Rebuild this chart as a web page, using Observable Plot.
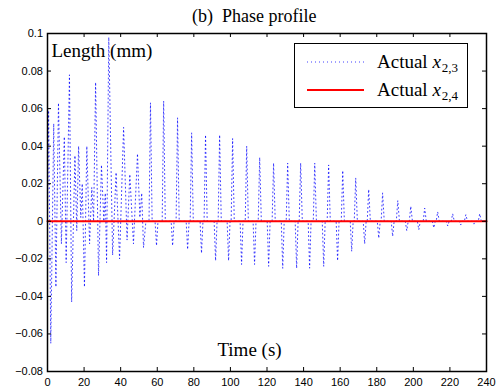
<!DOCTYPE html>
<html><head><meta charset="utf-8">
<script src="https://cdn.jsdelivr.net/npm/d3@7"></script>
<script src="https://cdn.jsdelivr.net/npm/@observablehq/plot@0.6"></script>
<style>body{margin:0;background:#fff;} svg{display:block}</style>
</head><body><div id="chart"></div>
<script>
const xTicks = [0, 20, 40, 60, 80, 100, 120, 140, 160, 180, 200, 220, 240];
const yTicks = [-0.08, -0.06, -0.04, -0.02, 0, 0.02, 0.04, 0.06, 0.08, 0.1];
const titleText = "(b)  Phase profile";
const yLabelText = "Length (mm)";
const xLabelText = "Time (s)";
const seriesNames = ["Actual", "Actual"];
const seriesSubs = ["2,3", "2,4"];

// Actual x_{2,3}: time (s) and value (mm)
const time23 = [
  0.0, 0.6, 1.8, 3.4, 4.6, 6.0, 7.6, 9.2, 10.2, 12.0, 13.2, 15.0, 16.0, 17.0, 18.2, 19.0, 20.2, 21.5, 23.0, 24.2,
  25.2, 26.3, 27.9, 29.5, 30.8, 31.6, 32.3, 33.5, 35.6, 37.5, 39.4, 41.6, 43.5, 45.0, 47.0, 49.2, 50.5, 51.5, 52.5, 53.8,
  55.5, 56.3, 57.2, 58.8, 59.6, 60.4, 62.7, 63.5, 64.4, 67.6, 68.4, 69.2, 70.3, 71.1, 72.0, 75.8, 76.6, 77.4, 78.0, 78.8,
  79.7, 83.4, 84.2, 85.0, 85.6, 86.4, 87.3, 91.1, 91.9, 92.7, 93.3, 94.1, 95.0, 98.2, 99.0, 99.8, 100.4, 101.2, 102.1, 105.3,
  106.1, 106.9, 108.1, 108.9, 109.8, 112.4, 113.2, 114.0, 115.2, 116.0, 116.9, 120.1, 120.9, 121.7, 122.8, 123.6, 124.5, 127.8, 128.6, 129.4,
  130.5, 131.3, 132.2, 135.4, 136.2, 137.0, 137.6, 138.4, 139.3, 142.5, 143.3, 144.1, 145.3, 146.1, 147.0, 150.2, 151.0, 151.8, 152.9, 153.7,
  154.6, 157.8, 158.6, 159.4, 160.6, 161.4, 162.3, 165.5, 166.3, 167.1, 167.7, 168.5, 169.4, 172.6, 173.4, 174.2, 174.8, 175.6, 176.5, 180.3,
  181.1, 181.9, 182.4, 183.2, 184.1, 187.9, 188.7, 189.5, 190.7, 191.5, 192.4, 195.6, 196.4, 197.2, 197.8, 198.6, 199.5, 202.2, 203.0, 203.8,
  205.4, 206.2, 207.1, 210.4, 211.2, 212.0, 212.5, 213.3, 214.2, 218.0, 218.8, 219.6, 220.7, 221.5, 222.4, 225.1, 225.9, 226.7, 227.9, 228.7,
  229.6, 232.3, 233.1, 233.9, 235.5, 236.3, 237.2, 240.0
];
const value23 = [
  0, 0.059, -0.065, 0.052, -0.035, 0.063, -0.012, 0.045, -0.022, 0.078, -0.043, 0.035, -0.005, 0.040, 0.002, 0.020, -0.035, 0.040, -0.012, 0.018,
  0, 0.074, -0.029, 0.030, 0, 0.015, -0.022, 0.098, -0.018, 0.026, -0.020, 0.050, -0.010, 0.025, -0.012, 0.036, 0.002, 0.015, -0.014, 0,
  0, 0.063, 0, 0, -0.013, 0, 0, 0.064, 0, 0, -0.013, 0, 0, 0.055, 0, 0, -0.015, 0, 0, 0.047,
  0, 0, -0.017, 0, 0, 0.046, 0, 0, -0.021, 0, 0, 0.046, 0, 0, -0.021, 0, 0, 0.044, 0, 0,
  -0.023, 0, 0, 0.040, 0, 0, -0.023, 0, 0, 0.034, 0, 0, -0.024, 0, 0, 0.031, 0, 0, -0.025, 0,
  0, 0.031, 0, 0, -0.025, 0, 0, 0.031, 0, 0, -0.025, 0, 0, 0.031, 0, 0, -0.024, 0, 0, 0.030,
  0, 0, -0.021, 0, 0, 0.027, 0, 0, -0.016, 0, 0, 0.023, 0, 0, -0.012, 0, 0, 0.017, 0, 0,
  -0.009, 0, 0, 0.015, 0, 0, -0.008, 0, 0, 0.011, 0, 0, -0.005, 0, 0, 0.008, 0, 0, -0.0045, 0,
  0, 0.007, 0, 0, -0.0035, 0, 0, 0.005, 0, 0, -0.0025, 0, 0, 0.004, 0, 0, -0.002, 0, 0, 0.0035,
  0, 0, -0.0015, 0, 0, 0.004, 0, 0
];
// Actual x_{2,4}
const time24 = [0, 240];
const value24 = [0, 0];

const d23 = time23.map((t, i) => ({t, v: value23[i]}));
const d24 = time24.map((t, i) => ({t, v: value24[i]}));

const serif = "'Liberation Serif','Times New Roman',serif";
const sans = "'Liberation Sans',Arial,Helvetica,sans-serif";
const fmtY = d => Math.abs(d) < 1e-9 ? "0" : String(+d.toFixed(2)).replace("-", "\u2212");
const dots = "1,3";

const W = 497, H = 387, mT = 33, mB = 16, mL = 47, mR = 11;
const plotW = W - mL - mR, plotH = H - mT - mB, tk = 4;

const svg = Plot.plot({
  width: W, height: H,
  marginTop: mT, marginBottom: mB, marginLeft: mL, marginRight: mR,
  x: {domain: [0, 240], label: null},
  y: {domain: [-0.08, 0.1], label: null},
  style: {fontFamily: sans, fontSize: "11px", color: "black", background: "white"},
  marks: [
    Plot.line(d23, {x: "t", y: "v", stroke: "#0000ff", strokeWidth: 1, strokeDasharray: dots, strokeOpacity: 0.75}),
    Plot.line(d24, {x: "t", y: "v", stroke: "#ff0000", strokeWidth: 2}),
    Plot.axisX(xTicks, {anchor: "bottom", tickSize: 0, tickPadding: 7, tickFormat: d => String(d), label: null}),
    Plot.axisY(yTicks, {anchor: "left", tickSize: 0, tickPadding: 4.5, tickFormat: fmtY, label: null}),
    // inward ticks on all four sides
    Plot.tickX(xTicks, {x: d => d, insetTop: plotH - tk, stroke: "black"}),
    Plot.tickX(xTicks, {x: d => d, insetBottom: plotH - tk, stroke: "black"}),
    Plot.tickY(yTicks, {y: d => d, insetRight: plotW - tk, stroke: "black"}),
    Plot.tickY(yTicks, {y: d => d, insetLeft: plotW - tk, stroke: "black"}),
    Plot.frame({stroke: "black", strokeWidth: 1.5}),
    Plot.text([yLabelText], {frameAnchor: "top-left", dx: 4, dy: 23, lineAnchor: "bottom", textAnchor: "start", fontFamily: serif, fontSize: 19, fill: "black"}),
    Plot.text([xLabelText], {frameAnchor: "bottom", dx: -17.5, dy: -16, lineAnchor: "bottom", fontFamily: serif, fontSize: 19, fill: "black"})
  ]
});

const s = d3.select(svg);
// title
s.append("text").attr("x", 192).attr("y", 21.5).attr("text-anchor", "start")
  .attr("font-family", serif).attr("font-size", 18).attr("fill", "black")
  .style("white-space", "pre").attr("xml:space", "preserve").text(titleText);

// legend
const lg = s.append("g").attr("text-anchor", "start");
lg.append("rect").attr("x", 294.5).attr("y", 43.5).attr("width", 173).attr("height", 64)
  .attr("fill", "white").attr("stroke", "black").attr("stroke-width", 1);
const rows = [
  {y: 62, stroke: "#0000ff", width: 1, dash: dots, op: 0.75},
  {y: 90, stroke: "#ff0000", width: 2, dash: null, op: 1}
];
rows.forEach((r, i) => {
  const ln = lg.append("line").attr("x1", 307).attr("x2", 364).attr("y1", r.y).attr("y2", r.y)
    .attr("stroke", r.stroke).attr("stroke-width", r.width).attr("stroke-opacity", r.op);
  if (r.dash) ln.attr("stroke-dasharray", r.dash);
  const t = lg.append("text").attr("x", 377).attr("y", r.y + 5.5).attr("text-anchor", "start")
    .attr("font-family", serif).attr("font-size", 19).attr("fill", "black");
  t.append("tspan").text(seriesNames[i] + " ");
  t.append("tspan").attr("font-style", "italic").text("x");
  t.append("tspan").attr("font-size", 13).attr("dy", 4).attr("dx", 1).text(seriesSubs[i]);
});

document.getElementById("chart").appendChild(svg);
</script>
</body></html>
